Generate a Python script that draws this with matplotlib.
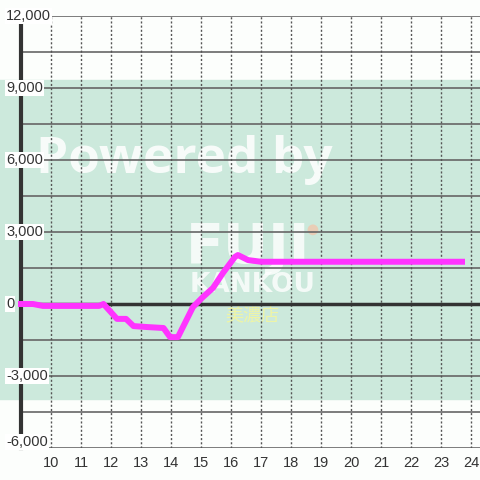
import matplotlib
matplotlib.use("Agg")
import matplotlib.pyplot as plt
import matplotlib.transforms as mtransforms

# ---- data ----
hours = [8.9, 9.4, 9.73, 11.6, 11.75, 12.2, 12.5, 12.75, 13.2, 13.75, 13.97, 14.23,
         14.55, 14.73, 15.03, 15.4, 15.73, 16.13, 16.23, 16.57, 17.0, 23.8]
values = [0, 0, -80, -80, 0, -620, -620, -920, -960, -1000, -1380, -1380,
          -580, -130, 250, 670, 1290, 1960, 2040, 1830, 1760, 1760]
x_ticks = list(range(10, 25))
y_ticks = [12000, 9000, 6000, 3000, 0, -3000, -6000]
y_tick_labels = ["12,000", "9,000", "6,000", "3,000", "0", "-3,000", "-6,000"]
y_grid = [v for v in range(-6000, 12001, 1500)]
band = (-3960, 9330)

plt.rcParams['font.family'] = ['Liberation Sans', 'DejaVu Sans']

fig = plt.figure(figsize=(4.8, 4.8), dpi=100)
fig.patch.set_facecolor('#fcfefc')
ax = fig.add_axes([21/480, 32/480, 459/480, 432/480])
ax.set_facecolor('none')
ax.set_xlim(9, 9 + 459/30)
ax.set_ylim(-6000, 12000)

# green band
ax.axhspan(band[0], band[1], xmin=-0.05, xmax=1, color='#cce9dc', zorder=0, clip_on=False)

# watermark
ax.text(0.355, 0.637, "Powered by", transform=ax.transAxes, fontsize=37,
        family=['Open Sans', 'DejaVu Sans'], fontweight='bold',
        color='white', alpha=0.85, ha='center', va='baseline', zorder=1)
ax.text(0.495, 0.428, "FUJI", transform=ax.transAxes, fontsize=40,
        family=['DejaVu Sans'], fontweight='bold',
        color='white', alpha=0.8, ha='center', va='baseline', zorder=1)
ax.text(0.505, 0.361, "KANKOU", transform=ax.transAxes, fontsize=19,
        family=['DejaVu Sans'], fontweight='bold',
        color='white', alpha=0.8, ha='center', va='baseline', zorder=1)
ax.text(0.503, 0.292, "美濃店", transform=ax.transAxes, fontsize=13,
        family=['Noto Sans CJK JP', 'DejaVu Sans'],
        color='#f2f6a0', alpha=0.9, ha='center', va='baseline', zorder=1)
ax.scatter([0.636], [0.505], transform=ax.transAxes, s=60, color='#f6c2a6',
           alpha=0.7, zorder=1, edgecolors='none')

# grid
for v in y_grid:
    if v == 0:
        continue
    ax.axhline(v, color='#666666', lw=1.2, zorder=2)
for h in x_ticks:
    ax.axvline(h, color='#555555', lw=1, ls=(0, (1.5, 1.5)), zorder=2)
ax.axhline(0, color='#333333', lw=2.5, zorder=3)

# spines
for s in ['top', 'right', 'bottom']:
    ax.spines[s].set_visible(False)
ax.spines['left'].set_color('#333333')
ax.spines['left'].set_linewidth(3)
ax.spines['left'].set_bounds(-6000, 11650)
ax.spines['left'].set_zorder(4)

# line
ax.plot(hours, values, color='#ff33ff', lw=4.3, solid_joinstyle='round',
        solid_capstyle='butt', zorder=5, clip_on=False)

# ticks
ax.set_xticks(x_ticks)
ax.set_xticklabels([str(h) for h in x_ticks], fontsize=10.5, color='#333333')
ax.tick_params(axis='x', length=0, pad=6)
ax.set_yticks([])

trans = mtransforms.blended_transform_factory(fig.transFigure, ax.transData)
for v, lab in zip(y_ticks, y_tick_labels):
    off = mtransforms.ScaledTranslation(0, 6/100 if v == -6000 else 0, fig.dpi_scale_trans)
    ax.text(6/480, v, lab, transform=trans + off, fontsize=10.5, color='#333333',
            ha='left', va='center', zorder=6,
            bbox=dict(facecolor='white', edgecolor='none', pad=0.8))

fig.savefig("out.png", dpi=100, facecolor=fig.get_facecolor())
